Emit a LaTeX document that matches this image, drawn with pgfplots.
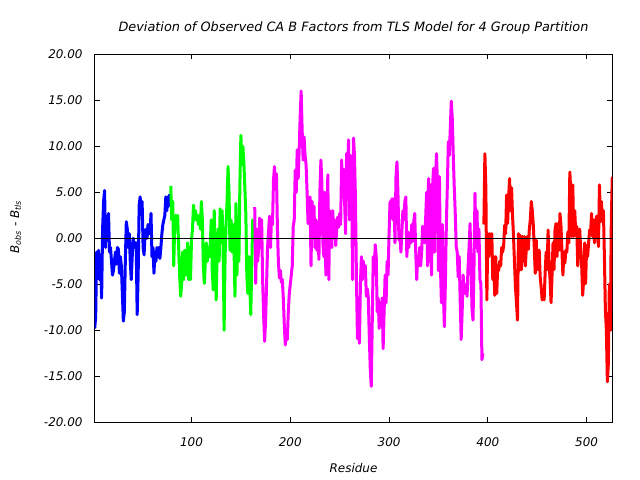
\documentclass[border=0pt]{standalone}
\usepackage{fontspec}
\setmainfont{DejaVu Sans}
\usepackage{pgfplots}
\pgfplotsset{compat=1.18}
\definecolor{gpblue}{RGB}{0,0,255}
\definecolor{gpgreen}{RGB}{0,255,0}
\definecolor{gpmag}{RGB}{255,0,255}
\definecolor{gpred}{RGB}{255,0,0}
\begin{document}
\begin{tikzpicture}
\path[use as bounding box] (-94.7bp,-57.7bp) rectangle (545.3bp,422.3bp);
\begin{axis}[
  at={(0,0)}, anchor=south west, scale only axis,
  width=517.6bp, height=368bp,
  xmin=2, xmax=526, ymin=-20, ymax=20,
  xtick={100,200,300,400,500},
  ytick={-20,-15,-10,-5,0,5,10,15,20},
  yticklabels={-20.00,-15.00,-10.00,-5.00,0.00,5.00,10.00,15.00,20.00},
  xticklabels={100,200,300,400,500},
  tick align=inside, major tick length=5bp,
  tick style={black, line width=0.8bp},
  axis line style={line width=0.8bp},
  every tick label/.append style={font=\itshape\fontsize{12}{14}\selectfont},
  yticklabel style={anchor=east, inner sep=0pt, xshift=-12bp},
  xticklabel style={anchor=north, inner sep=0pt, yshift=-15bp},
  title={Deviation of Observed CA B Factors from TLS Model for 4 Group Partition},
  every axis title/.style={at={(axis description cs:0.5,1)}, anchor=base, inner sep=0pt, yshift=22.3bp, font=\itshape\fontsize{12.9}{15}\selectfont},
  xlabel={Residue},
  every axis x label/.style={at={(axis description cs:0.5,0)}, anchor=base, inner sep=0pt, yshift=-50bp, font=\itshape\fontsize{12}{14}\selectfont},
  ylabel={B\textsubscript{obs} - B\textsubscript{tls}},
  every axis y label/.style={at={([xshift=-79bp]axis description cs:0,0.531)}, rotate=90, anchor=center, inner sep=0pt, font=\itshape\fontsize{12}{14}\selectfont},
  clip=true,
]
\addplot[gpblue, line width=3bp, line join=round] coordinates {
(2,-9.8)(3,-8.5)(4,-1.5)(5,-3.0)(6,-1.3)(7,-4.5)(8,-2.0)(9,-6.5)(10,1.0)(11,4.0)(12,5.2)(13,-1.0)(14,2.0)(15,1.0)(16,2.7)(17,-1.5)(18,-1.0)(19,-2.5)(20,-4.0)(21,-3.5)(22,-2.5)(23,-1.5)(24,-2.8)(25,-1.0)(26,-1.2)(27,-3.8)(28,-2.0)(29,-3.0)(30,-6.0)(31,-9.0)(32,-8.0)(33,-2.5)(34,1.8)(35,1.0)(36,-1.0)(37,0.5)(38,-2.5)(39,-4.5)(40,-2.0)(41,0.0)(42,-1.0)(43,-0.5)(44,-0.5)(45,-8.3)(46,-4.0)(47,3.6)(48,4.5)(49,3.0)(50,4.0)(51,-1.0)(52,-1.8)(53,0.5)(54,1.0)(55,0.0)(56,1.5)(57,0.5)(58,0.5)(59,2.7)(60,-2.0)(61,-1.0)(62,-3.8)(63,-1.5)(64,-2.5)(65,-1.0)(66,-2.0)(67,-1.0)(68,-2.2)(69,-1.0)(70,0.5)(71,1.5)(72,2.0)(73,2.5)(74,4.5)(75,3.0)(76,4.5)(77,3.5)(78,4.8)
};
\addplot[gpgreen, line width=3bp, line join=round] coordinates {
(79,5.7)(80,2.0)(81,4.0)(82,-3.0)(83,1.5)(84,2.5)(85,1.0)(86,2.5)(87,-1.0)(88,-4.0)(89,-6.3)(90,-5.0)(91,-1.5)(92,-4.5)(93,-1.3)(94,-4.0)(95,-3.0)(96,-0.5)(97,-4.5)(98,-1.0)(99,-4.5)(100,-0.2)(101,1.0)(102,3.6)(103,2.0)(104,3.0)(105,2.0)(106,2.5)(107,1.5)(108,2.5)(109,1.0)(110,4.0)(111,2.0)(112,-3.0)(113,-4.9)(114,-2.5)(115,-0.5)(116,-2.5)(117,-1.0)(118,-2.0)(119,-0.5)(120,2.0)(121,-3.5)(122,-5.6)(123,3.0)(124,-2.0)(125,-6.7)(126,-1.0)(127,1.0)(128,-2.5)(129,3.2)(130,-0.5)(131,3.0)(132,-1.0)(133,-10.0)(134,-2.0)(135,1.5)(136,4.0)(137,7.8)(138,5.0)(139,-1.3)(140,2.0)(141,-1.5)(142,1.5)(143,-1.0)(144,-6.3)(145,3.8)(146,-4.0)(147,2.0)(148,-2.5)(149,6.0)(150,11.2)(151,8.0)(152,10.0)(153,8.3)(154,5.5)(155,2.7)(156,-4.0)(157,-6.0)(158,-2.0)(159,-5.0)(160,-8.3)(161,-3.0)(162,2.0)(163,1.0)
};
\addplot[gpmag, line width=3bp, line join=round] coordinates {
(164,3.4)(165,-4.9)(166,1.0)(167,-2.5)(168,-1.0)(169,2.2)(170,-1.0)(171,2.0)(172,-4.5)(173,-8.3)(174,-11.2)(175,-9.0)(176,-5.0)(177,-1.0)(178,0.7)(179,2.4)(180,-1.0)(181,2.3)(182,1.5)(183,6.3)(184,7.8)(185,5.5)(186,7.0)(187,1.0)(188,-2.7)(189,-4.3)(190,-3.5)(191,-4.8)(192,-4.5)(193,-6.7)(194,-9.6)(195,-11.6)(196,-10.5)(197,-11.0)(198,-8.0)(199,-6.0)(200,-5.0)(201,-4.0)(202,-3.0)(203,1.3)(204,2.0)(205,7.4)(206,5.0)(207,9.6)(208,6.5)(209,9.6)(210,13.2)(211,16.0)(212,11.8)(213,8.5)(214,11.0)(215,9.0)(216,8.0)(217,5.0)(218,1.6)(219,2.5)(220,4.5)(221,-3.0)(222,4.0)(223,0.5)(224,3.5)(225,-1.0)(226,2.0)(227,-1.3)(228,0.5)(229,-2.3)(230,5.2)(231,8.5)(232,6.0)(233,-0.5)(234,-2.0)(235,5.0)(236,-4.0)(237,1.0)(238,6.9)(239,-4.5)(240,3.0)(241,0.5)(242,-1.0)(243,3.0)(244,0.5)(245,2.0)(246,-0.8)(247,1.0)(248,2.3)(249,1.2)(250,2.7)(251,1.5)(252,8.5)(253,4.5)(254,7.5)(255,4.0)(256,0.5)(257,9.2)(258,7.0)(259,10.7)(260,2.0)(261,9.0)(262,8.5)(263,-4.5)(264,10.9)(265,9.0)(266,4.2)(267,-4.5)(268,-10.9)(269,-7.0)(270,-11.4)(271,-5.0)(272,-2.0)(273,-4.5)(274,-2.5)(275,-4.0)(276,-3.0)(277,-6.3)(278,-5.5)(279,-6.5)(280,-10.7)(281,-14.3)(282,-16.1)(283,-9.0)(284,-2.0)(285,-4.0)(286,-0.7)(287,-2.0)(288,-8.0)(289,-6.5)(290,-9.8)(291,-7.0)(292,-9.0)(293,-6.5)(294,-12.0)(295,-8.0)(296,-4.0)(297,-7.0)(298,-2.5)(299,-4.0)(300,0.5)(301,4.0)(302,2.5)(303,4.3)(304,2.0)(305,4.3)(306,-0.5)(307,6.7)(308,8.3)(309,4.9)(310,-0.2)(311,0.5)(312,-1.5)(313,0.8)(314,3.0)(315,2.0)(316,4.0)(317,4.5)(318,-2.0)(319,0.7)(320,-1.0)(321,0.5)(322,-0.5)(323,1.5)(324,-0.3)(325,1.8)(326,2.7)(327,-1.5)(328,-4.5)(329,-2.0)(330,-3.0)(331,-1.0)(332,-3.0)(333,-1.5)(334,1.3)(335,0.5)(336,-0.5)(337,2.0)(338,5.0)(339,-3.0)(340,6.5)(341,-2.5)(342,5.8)(343,-4.0)(344,5.5)(345,7.6)(346,-1.5)(347,6.5)(348,9.2)(349,6.0)(350,-3.5)(351,6.7)(352,-3.0)(353,-7.0)(354,1.5)(355,-6.0)(356,-9.6)(357,-5.0)(358,1.5)(359,5.7)(360,10.5)(361,9.0)(362,12.0)(363,14.9)(364,13.0)(365,9.0)(366,5.6)(367,2.7)(368,-0.9)(369,-1.5)(370,-4.2)(371,-2.0)(372,-6.7)(373,-11.0)(374,-8.0)(375,-4.0)(376,-5.5)(377,-6.0)(378,-5.0)(379,-6.3)(380,-3.0)(381,-1.0)(382,1.6)(383,-3.0)(384,-7.8)(385,-8.9)(386,-3.0)(387,4.9)(388,-1.0)(389,3.0)(390,-1.5)(391,1.0)(392,-4.5)(393,-5.0)(394,-13.2)(395,-12.5)
};
\addplot[gpred, line width=3bp, line join=round] coordinates {
(396,1.5)(397,9.2)(398,5.5)(399,-6.7)(400,0.5)(401,-2.0)(402,0.5)(403,-1.5)(404,0.5)(405,-4.5)(406,-2.0)(407,-6.2)(408,-2.0)(409,-6.0)(410,-3.0)(411,-3.5)(412,-2.5)(413,-3.0)(414,-1.0)(415,-1.5)(416,-0.8)(417,1.4)(418,0.5)(419,4.7)(420,1.6)(421,4.3)(422,6.5)(423,3.0)(424,5.5)(425,2.5)(426,0.2)(427,-2.7)(428,-5.4)(429,-7.0)(430,-8.9)(431,0.5)(432,-3.5)(433,0.3)(434,-3.4)(435,0.2)(436,-2.5)(437,0.2)(438,-3.0)(439,-1.0)(440,0.2)(441,-1.2)(442,1.0)(443,2.0)(444,4.0)(445,3.0)(446,1.5)(447,-1.0)(448,-3.8)(449,-0.2)(450,-3.4)(451,-2.0)(452,-1.3)(453,-4.2)(454,-5.3)(455,-6.7)(456,-5.5)(457,-6.7)(458,-3.8)(459,-1.5)(460,-3.4)(461,0.9)(462,-2.7)(463,-4.5)(464,-7.0)(465,-4.0)(466,-0.5)(467,-3.4)(468,0.9)(469,1.6)(470,-2.0)(471,1.6)(472,-1.3)(473,2.7)(474,1.5)(475,-1.3)(476,-4.0)(477,-1.5)(478,-2.7)(479,-1.3)(480,-1.5)(481,0.7)(482,-0.5)(483,7.2)(484,5.0)(485,0.2)(486,5.8)(487,0.2)(488,3.0)(489,0.5)(490,1.3)(491,-3.0)(492,-0.5)(493,1.0)(494,-1.3)(495,-3.0)(496,-6.2)(497,-4.5)(498,-0.5)(499,-4.9)(500,-0.8)(501,-2.0)(502,-0.5)(503,0.9)(504,0.5)(505,2.7)(506,0.2)(507,2.0)(508,-0.5)(509,1.3)(510,2.4)(511,1.0)(512,-0.9)(513,5.8)(514,1.8)(515,4.0)(516,1.8)(517,3.0)(518,-2.0)(519,-7.8)(520,-10.0)(521,-15.6)(522,-13.6)(523,-5.0)(524,-10.0)(525,2.0)(526,6.7)
};
\addplot[black, line width=0.8bp] coordinates {(2,0) (526,0)};
\end{axis}
\end{tikzpicture}
\end{document}
